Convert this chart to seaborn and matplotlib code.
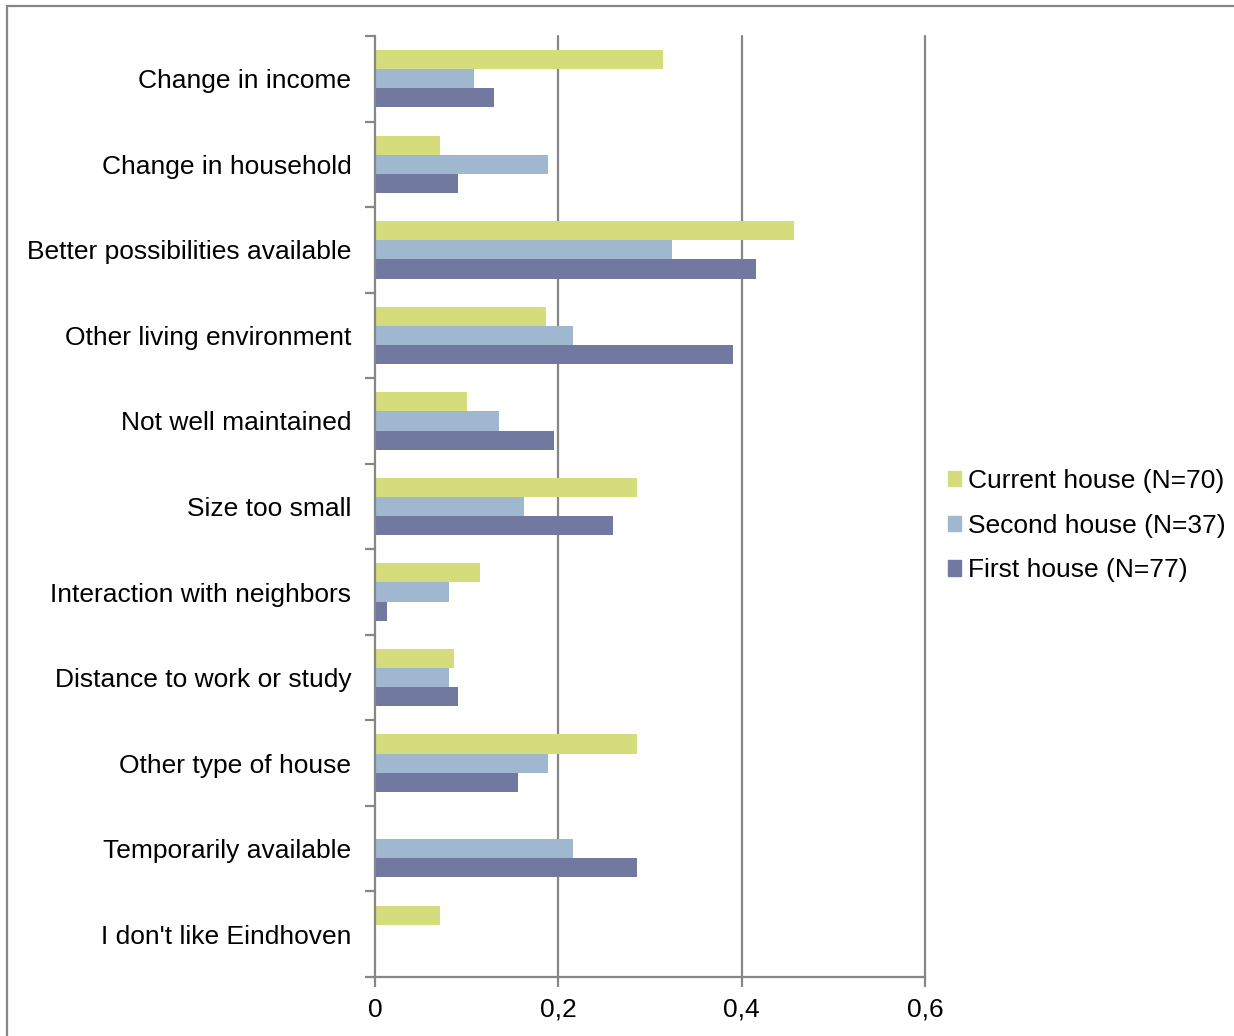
import matplotlib
matplotlib.use("Agg")
import matplotlib.pyplot as plt
import matplotlib.patches as mpatches
from matplotlib.ticker import FixedLocator
import numpy as np
import pandas as pd
import seaborn as sns

reasons = [
    "Change in income",
    "Change in household",
    "Better possibilities available",
    "Other living environment",
    "Not well maintained",
    "Size too small",
    "Interaction with neighbors",
    "Distance to work or study",
    "Other type of house",
    "Temporarily available",
    "I don't like Eindhoven",
]
series_names = ["Current house (N=70)", "Second house (N=37)", "First house (N=77)"]
current_house = [0.314, 0.071, 0.457, 0.186, 0.100, 0.286, 0.114, 0.086, 0.286, 0.0, 0.071]
second_house = [0.108, 0.189, 0.324, 0.216, 0.135, 0.162, 0.081, 0.081, 0.189, 0.216, 0.0]
first_house = [0.130, 0.091, 0.416, 0.390, 0.195, 0.260, 0.013, 0.091, 0.156, 0.286, 0.0]
x_ticks = [0, 0.2, 0.4, 0.6]
x_tick_labels = ["0", "0,2", "0,4", "0,6"]
colors = ["#d4dc7b", "#9fb8cf", "#7179a1"]

df = pd.DataFrame({
    "reason": reasons * 3,
    "share": current_house + second_house + first_house,
    "house": [series_names[0]] * len(reasons)
             + [series_names[1]] * len(reasons)
             + [series_names[2]] * len(reasons),
})

sns.set_style("white")
plt.rcParams["font.family"] = ["Liberation Sans", "DejaVu Sans"]
plt.rcParams["text.color"] = "black"
plt.rcParams["xtick.color"] = "black"
plt.rcParams["ytick.color"] = "black"

W, H = 1234, 1036
FS = 19
fig = plt.figure(figsize=(W / 100, H / 100), dpi=100)
ax = fig.add_axes([375 / W, 1 - 977 / H, (925 - 375) / W, (977 - 36) / H])

sns.barplot(data=df, x="share", y="reason", hue="house", order=reasons,
            hue_order=series_names, palette=colors, width=0.67,
            saturation=1, ax=ax, legend=False, errorbar=None, linewidth=0)

grey = "#868686"
ax.set_xlim(0, 0.6)
ax.set_ylim(len(reasons) - 0.5, -0.5)
ax.set_xticks(x_ticks)
ax.set_xticklabels(x_tick_labels, fontsize=FS)
ax.set_xlabel("")
ax.set_ylabel("")
ax.tick_params(axis="y", which="major", left=True, length=0, pad=17, labelsize=FS,
               labelcolor="black")
ax.yaxis.set_minor_locator(FixedLocator(np.arange(-0.5, len(reasons), 1.0)))
ax.tick_params(axis="y", which="minor", left=True, length=7, width=1.6,
               color=grey, direction="out")
ax.tick_params(axis="x", which="major", bottom=True, length=7, width=1.6,
               color=grey, direction="out", pad=8, labelcolor="black")

for x in x_ticks[1:]:
    ax.axvline(x, color=grey, lw=1.6, zorder=0, clip_on=False)

for side in ["top", "right"]:
    ax.spines[side].set_visible(False)
for side in ["left", "bottom"]:
    ax.spines[side].set_color(grey)
    ax.spines[side].set_linewidth(1.6)

handles = [mpatches.Patch(color=c, label=n) for c, n in zip(colors, series_names)]
fig.legend(handles=handles, loc="center left",
           bbox_to_anchor=(937.5 / W, 1 - 525.5 / H), frameon=False,
           fontsize=FS, handlelength=0.5, handleheight=0.5, handletextpad=0.27,
           labelspacing=0.79, borderaxespad=0)

# outer frame of the figure
fig.patches.append(mpatches.Rectangle((6.5 / W, -0.05), 1.2, 1 - 6.5 / H + 0.05,
                                      transform=fig.transFigure, fill=False,
                                      edgecolor=grey, lw=1.6))

fig.savefig("out.png", dpi=100)
